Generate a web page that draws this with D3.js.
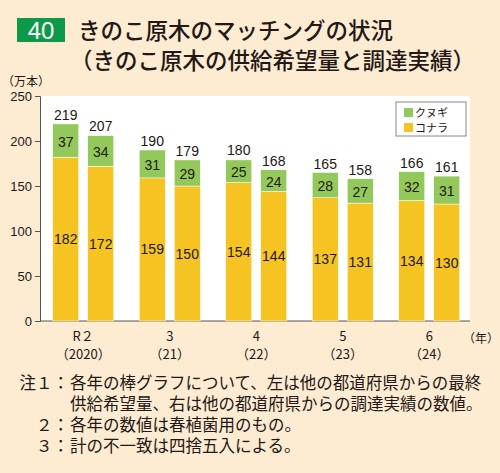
<!DOCTYPE html><html><head><meta charset="utf-8"><script src="https://cdn.jsdelivr.net/npm/d3@7"></script>
<style>body{margin:0;background:#fdebd2;font-family:"Noto Sans CJK JP",sans-serif}</style></head><body><svg id="c" width="500" height="473"></svg><script>
const years=["R２\n（2020）","3\n（21）","4\n（22）","5\n（23）","6\n（24）"];
const konara=[182,172,159,150,154,144,137,131,134,130];
const kunugi=[37,34,31,29,25,24,28,27,32,31];
const totals=[219,207,190,179,180,168,165,158,166,161];
const yTicks=[0,50,100,150,200,250];
const svg=d3.select("#c");
svg.append("rect").attr("x",17).attr("y",18).attr("width",48).attr("height",24).attr("fill","#0d9a48");
svg.append("text").attr("x",41).attr("y",39).attr("text-anchor","middle").attr("fill","#fff").attr("font-size",24).attr("font-family","Arial, Liberation Sans").text("40");
svg.append("text").attr("x",78).attr("y",39).attr("font-size",22.5).attr("fill","#231815").attr("font-weight",500).text("きのこ原木のマッチングの状況");
svg.append("text").attr("x",70).attr("y",69).attr("font-size",22.5).attr("fill","#231815").attr("font-weight",500).text("（きのこ原木の供給希望量と調達実績）");
const L=40,R=470,T=96,B=321;
svg.append("rect").attr("x",L).attr("y",T).attr("width",R-L).attr("height",B-T).attr("fill","#fff");
const y=d3.scaleLinear().domain([0,250]).range([B,T]);
const gx=d3.scaleBand().domain(d3.range(5)).range([L,L+5*86.5]).padding(0);
const bw=26,gap=9;
const g=svg.append("g").attr("transform",`translate(${L},0)`);
g.call(d3.axisLeft(y).tickValues(yTicks).tickSize(5).tickPadding(3)).call(a=>{a.select(".domain").attr("stroke","#555");a.selectAll("line").attr("stroke","#555");a.selectAll("text").attr("font-size",13).attr("font-family","Arial, Liberation Sans").attr("fill","#231815");});
svg.append("line").attr("x1",L).attr("x2",R).attr("y1",B).attr("y2",B).attr("stroke","#555");
const cx=i=>gx(Math.floor(i/2))+gx.bandwidth()/2+(i%2===0?-(gap/2+bw):gap/2);
konara.forEach((v,i)=>{
 const x0=cx(i);
 svg.append("rect").attr("x",x0).attr("width",bw).attr("y",y(v)).attr("height",B-y(v)).attr("fill","#f5c422").attr("stroke","#fff").attr("stroke-width",0.5);
 svg.append("rect").attr("x",x0).attr("width",bw).attr("y",y(v+kunugi[i])).attr("height",y(v)-y(v+kunugi[i])).attr("fill","#93c85b").attr("stroke","#fff").attr("stroke-width",0.5);
 const t=(ty,s)=>svg.append("text").attr("x",x0+bw/2).attr("y",ty).attr("text-anchor","middle").attr("font-size",14).attr("font-family","Arial, Liberation Sans").attr("fill","#231815").text(s);
 t(y(v/2)+5,v);
 t((y(v)+y(v+kunugi[i]))/2+6,kunugi[i]);
 t(y(totals[i])-4,totals[i]);
});
years.forEach((s,i)=>{
 const lines=s.split("\n");const x=gx(i)+gx.bandwidth()/2;
 lines.forEach((l,j)=>svg.append("text").attr("x",x).attr("y",341+j*18).attr("text-anchor","middle").attr("font-size",13).attr("fill","#231815").text(l));
});
svg.append("text").attr("x",463).attr("y",343).attr("font-size",12).attr("fill","#231815").text("（年）");
svg.append("text").attr("x",2).attr("y",86).attr("font-size",12).attr("fill","#231815").text("（万本）");
svg.append("rect").attr("x",396).attr("y",102).attr("width",70).attr("height",34).attr("fill","#fff").attr("stroke","#888");
[["クヌギ","#93c85b"],["コナラ","#f5c422"]].forEach((d,i)=>{
 svg.append("rect").attr("x",404).attr("y",108+i*15).attr("width",9).attr("height",9).attr("fill",d[1]);
 svg.append("text").attr("x",415).attr("y",117+i*15).attr("font-size",11).attr("fill","#231815").text(d[0]);
});
const notes=[["注１：","各年の棒グラフについて、左は他の都道府県からの最終",389],["","供給希望量、右は他の都道府県からの調達実績の数値。",410],["２：","各年の数値は春植菌用のもの。",431],["３：","計の不一致は四捨五入による。",452]];
notes.forEach(n=>{
 if(n[0])svg.append("text").attr("x",69).attr("y",n[2]).attr("text-anchor","end").attr("font-size",16.5).attr("fill","#231815").text(n[0]);
 svg.append("text").attr("x",70).attr("y",n[2]).attr("font-size",16.5).attr("fill","#231815").text(n[1]);
});
</script></body></html>
